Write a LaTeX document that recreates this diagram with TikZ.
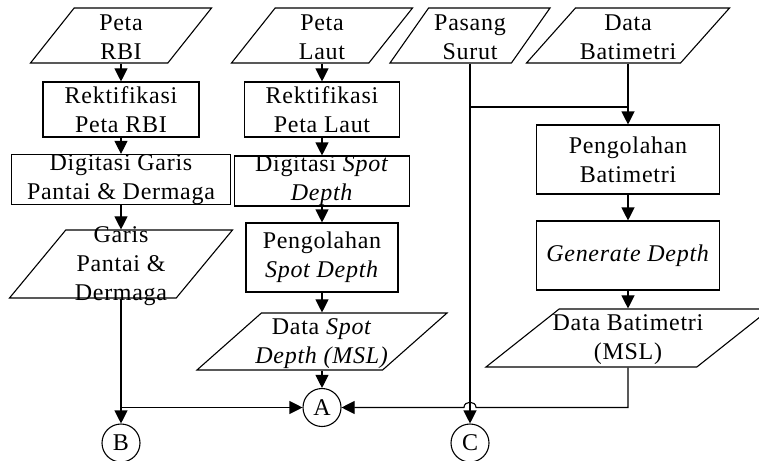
\documentclass[tikz,border=0pt]{standalone}
\usepackage{fontspec}
\setmainfont{Liberation Serif}[LetterSpace=3]
\usetikzlibrary{positioning,shapes.geometric,arrows.meta}

\begin{document}
\begin{tikzpicture}[x=0.5pt,y=-0.5pt,>={Triangle[length=6.5pt,width=6.5pt]},line width=0.55pt,
  every node/.style={font=\fontsize{12pt}{14.5pt}\selectfont},
  every label/.style={align=center,yshift=-1pt},
  box/.style={draw,rectangle,inner sep=0pt,align=center},
  io/.style={draw,trapezium,trapezium left angle=65,trapezium right angle=115,trapezium stretches=true,inner sep=0.5pt},
  conn/.style={draw,circle,minimum size=19pt,inner sep=0pt}]
\useasboundingbox (0,0) rectangle (759,460);
% kolom peta RBI
\node[io,minimum width=90.5pt,minimum height=27.5pt,label={center:{Peta\\RBI}}] (rbi) at (121,35.5) {};
\node[box,minimum width=78pt,minimum height=27.5pt] (rekRBI) at (121,109.5) {Rektifikasi\\Peta RBI};
\node[box,minimum width=109.5pt,minimum height=24.5pt] (digGaris) at (121,179.5) {Digitasi Garis\\Pantai \& Dermaga};
\node[io,trapezium left angle=63,trapezium right angle=117,minimum width=111.5pt,minimum height=34pt,label={center:{Garis\\Pantai \&\\Dermaga}}] (garis) at (121,264) {};
\node[conn] (B) at (121,443) {B};
% kolom peta laut
\node[io,minimum width=90.5pt,minimum height=27.5pt,label={center:{Peta\\Laut}}] (laut) at (322,35.5) {};
\node[box,minimum width=77.5pt,minimum height=27.5pt] (rekLaut) at (322,109.5) {Rektifikasi\\Peta Laut};
\node[box,minimum width=87.5pt,minimum height=25pt] (digSpot) at (322,181) {Digitasi \textit{Spot}\\\textit{Depth}};
\node[box,minimum width=76pt,minimum height=34.5pt] (pengSpot) at (322,257.5) {Pengolahan\\\textit{Spot Depth}};
\node[io,trapezium left angle=62,trapezium right angle=118,minimum width=125pt,minimum height=28.5pt,label={center:{Data \textit{Spot}\\\textit{Depth (MSL)}}}] (dataSpot) at (322,341.5) {};
\node[conn] (A) at (322,407.5) {A};
% pasang surut dan batimetri
\node[io,minimum width=80pt,minimum height=27.5pt,label={center:{Pasang\\Surut}}] (pasut) at (470,35.5) {};
\node[conn] (C) at (470,443) {C};
\node[io,minimum width=101.5pt,minimum height=27.5pt,label={center:{Data\\Batimetri}}] (dataBat) at (628,35.5) {};
\node[box,minimum width=91.5pt,minimum height=34.5pt] (pengBat) at (628,159.5) {Pengolahan\\Batimetri};
\node[box,minimum width=91.5pt,minimum height=34.5pt] (genDepth) at (628,255.5) {\textit{Generate Depth}};
\node[io,trapezium left angle=62,trapezium right angle=118,minimum width=142pt,minimum height=29pt,label={center:{Data Batimetri\\(MSL)}}] (dataBatMSL) at (628,338) {};
\coordinate (jn) at (628,107);
\coordinate (hopR) at (476,407.5);
\coordinate (hopL) at (464,407.5);

\draw[->] (rbi) -- (rekRBI);
\draw[->] (rekRBI) -- (digGaris);
\draw[->] (digGaris) -- (garis);
\draw[->] (garis) -- (B);
\draw[->] (B |- A) -- (A);
\draw[->] (laut) -- (rekLaut);
\draw[->] (rekLaut) -- (digSpot);
\draw[->] (digSpot) -- (pengSpot);
\draw[->] (pengSpot) -- (dataSpot);
\draw[->] (dataSpot) -- (A);
\draw (pasut) |- (jn);
\draw[->] (pasut) -- (C);
\draw[->] (dataBat) -- (pengBat);
\draw[->] (pengBat) -- (genDepth);
\draw[->] (genDepth) -- (dataBatMSL);
\draw[->] (dataBatMSL) |- (hopR) .. controls +(0,-7) and +(0,-7) .. (hopL) -- (A);
\end{tikzpicture}
\end{document}
